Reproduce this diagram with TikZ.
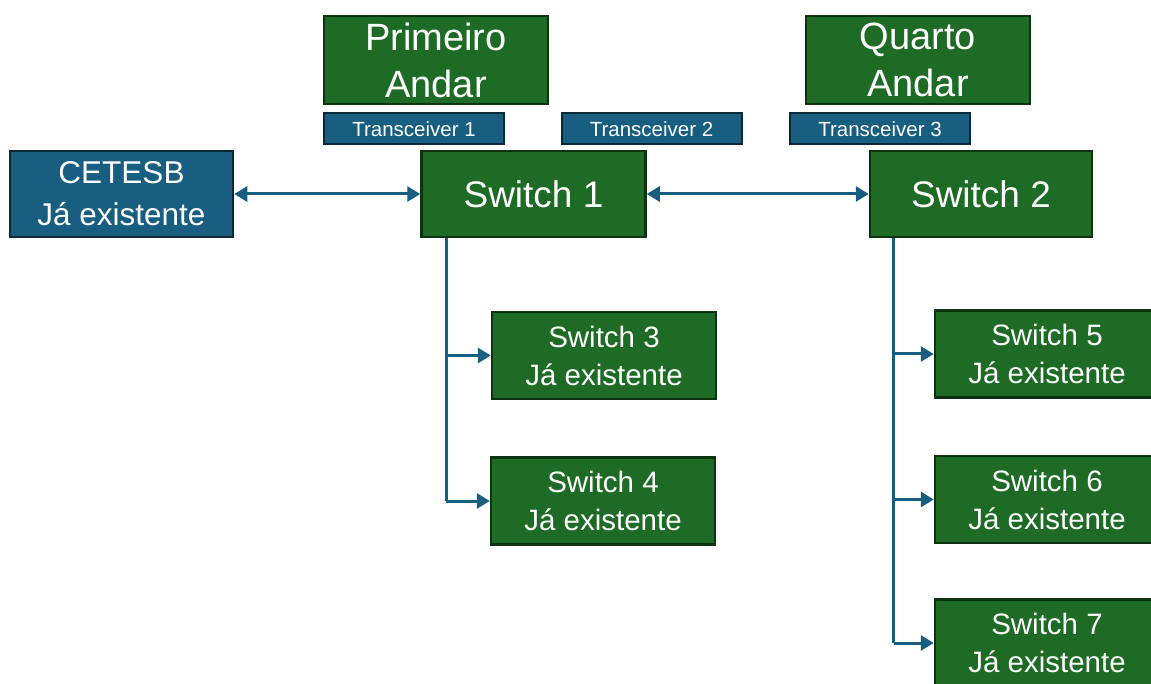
\documentclass[tikz,border=0pt]{standalone}
\usepackage{fontspec}
\setmainfont{Liberation Sans}
\usepackage{xcolor}
\usepackage{tikz}
\usetikzlibrary{positioning,calc,arrows.meta}
\definecolor{RedeVerde}{RGB}{29,107,36}
\definecolor{BordaVerde}{RGB}{12,52,16}
\definecolor{RedeAzul}{RGB}{24,94,128}
\definecolor{BordaAzul}{RGB}{10,40,56}
\tikzset{
    caixa/.style={rectangle, draw=BordaVerde, fill=RedeVerde, line width=2.5pt, text=white, align=center, inner sep=0pt, minimum width=224pt, minimum height=87pt},
    caixaazul/.style={caixa, draw=BordaAzul, fill=RedeAzul},
    ligacao/.style={draw=RedeAzul, line width=3pt}
}

\begin{document}
\begin{tikzpicture}[
                x=1pt, y=-1pt,
                % Caixas pequenas dos transceivers
                transc/.style={
                    caixaazul,
                    line width=2pt,
                    minimum width=180pt,
                    minimum height=31pt,
                    font=\fontsize{20.5}{22}\selectfont
                },
                andar/.style={caixa, minimum height=88pt, font=\fontsize{38}{47}\selectfont},
                principal/.style={caixa, minimum height=86pt, font=\fontsize{37}{44}\selectfont},
                existente/.style={caixa, font=\fontsize{29.5}{38}\selectfont},
                seta/.style={ligacao, -{Triangle[length=13pt,width=15pt]}},
                setadupla/.style={ligacao, {Triangle[length=13pt,width=15pt]}-{Triangle[length=13pt,width=15pt]}}
            ]
                \clip (0,0) rectangle (1151,684);
                \fill[white] (0,0) rectangle (1151,684);

                % 1. ANDARES E TRANSCEIVERS
                \node[andar] (primeiro) at (436,60) {Primeiro\\Andar};
                \node[andar] (quarto) at (918,60) {Quarto\\Andar};
                \node[transc] (t1) at (414,129) {Transceiver 1};
                \node[transc] (t2) at (651.5,129) {Transceiver 2};
                \node[transc] (t3) at (880,129) {Transceiver 3};

                % 2. SWITCHES PRINCIPAIS
                \node[caixaazul, minimum width=223pt, minimum height=86pt, font=\fontsize{31.5}{42}\selectfont] (cetesb) at (121.5,194) {CETESB\\Já existente};
                \node[principal] (s1) at (533.5,194) {Switch 1};
                \node[principal, minimum width=222pt] (s2) at (981,194) {Switch 2};

                % 3. SWITCHES JÁ EXISTENTES
                \node[existente] (s3) at (604,355.5) {Switch 3\\Já existente};
                \node[existente] (s4) at (603,501) {Switch 4\\Já existente};
                \node[existente] (s5) at (1047,354) {Switch 5\\Já existente};
                \node[existente] (s6) at (1047,499.5) {Switch 6\\Já existente};
                \node[existente] (s7) at (1047,643) {Switch 7\\Já existente};

                % 4. LIGAÇÕES
                \draw[setadupla] (cetesb) -- (s1);
                \draw[setadupla] (s1) -- (s2);

                \coordinate (r1) at ($(s1.south west)+(26,0)$);
                \coordinate (r2) at ($(s2.south west)+(25,0)$);
                \draw[ligacao] (r1) -- (r1 |- s4.west);
                \draw[seta] (r1 |- s3.west) -- (s3.west);
                \draw[seta] (r1 |- s4.west) -- (s4.west);
                \draw[ligacao] (r2) -- (r2 |- s7.west);
                \draw[seta] (r2 |- s5.west) -- (s5.west);
                \draw[seta] (r2 |- s6.west) -- (s6.west);
                \draw[seta] (r2 |- s7.west) -- (s7.west);

            \end{tikzpicture}
\end{document}
